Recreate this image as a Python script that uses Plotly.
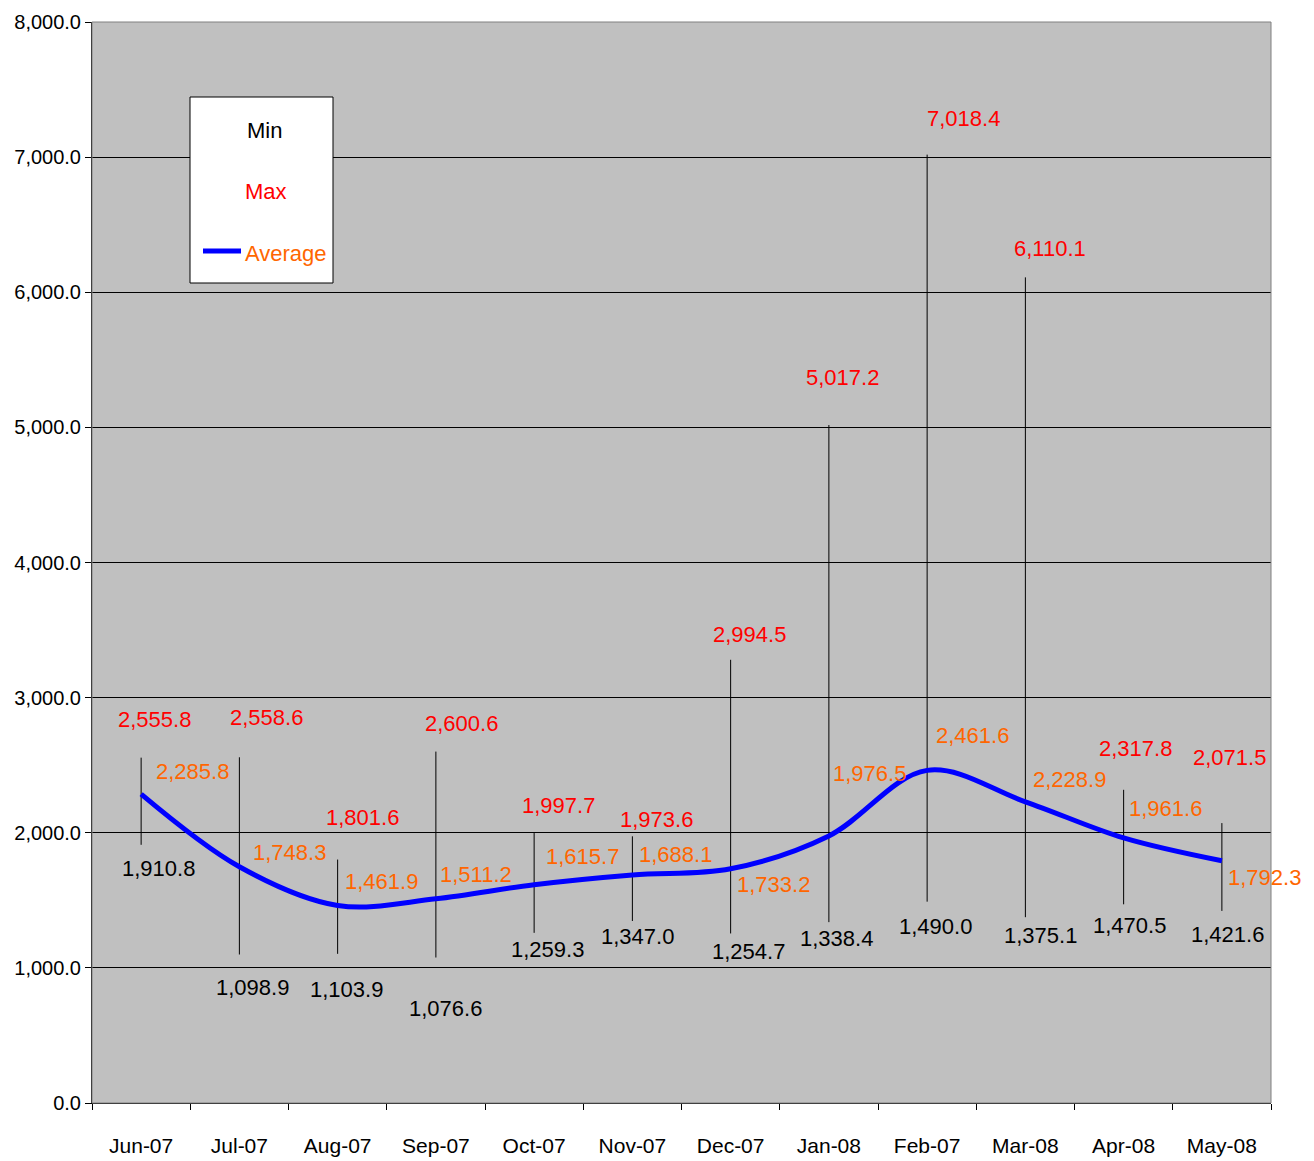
import plotly.graph_objects as go

# ---------------- data ----------------
months = ["Jun-07", "Jul-07", "Aug-07", "Sep-07", "Oct-07", "Nov-07",
          "Dec-07", "Jan-08", "Feb-07", "Mar-08", "Apr-08", "May-08"]
min_value = [1910.8, 1098.9, 1103.9, 1076.6, 1259.3, 1347.0,
             1254.7, 1338.4, 1490.0, 1375.1, 1470.5, 1421.6]
max_value = [2555.8, 2558.6, 1801.6, 2600.6, 1997.7, 1973.6,
             2994.5, 5017.2, 7018.4, 6110.1, 2317.8, 2071.5]
# top of each high-low line as drawn in the picture (Dec line reaches ~3,280)
high_line = [2555.8, 2558.6, 1801.6, 2600.6, 1997.7, 1973.6,
             3280.0, 5017.2, 7018.4, 6110.1, 2317.8, 2071.5]
avg_value = [2285.8, 1748.3, 1461.9, 1511.2, 1615.7, 1688.1,
             1733.2, 1976.5, 2461.6, 2228.9, 1961.6, 1792.3]
y_ticks = [0, 1000, 2000, 3000, 4000, 5000, 6000, 7000, 8000]

# ---------------- label offsets (pixels, dx right, dy down) ----------------
max_off = [(13, -38), (27, -40), (25, -42), (26, -28), (24, -28), (24, -17),
           (19, -64), (14, -48), (36, -36), (25, -29), (12, -41), (8, -66)]
min_off = [(17, 24), (13, 33), (9, 36), (10, 51), (13, 17), (5, 16),
           (18, 18), (8, 16), (8, 25), (15, 18), (6, 21), (6, 24)]
avg_off = [(51, -23), (50, -14), (44, -24), (40, -24), (48, -28), (43, -20),
           (43, 16), (41, -62), (45, -35), (44, -22), (42, -29), (43, 17)]

FONT = "Liberation Sans, Arial, sans-serif"
W, H = 1314, 1161
L, R, T, B = 92, 1271, 22, 1103


def fmt(v):
    return f"{v:,.1f}"


def px(x):
    return (x - L) / (R - L)


def py(y):
    return (B - y) / (B - T)


fig = go.Figure()

# high-low lines
xs, ys = [], []
for m, lo, hi in zip(months, min_value, high_line):
    xs += [m, m, None]
    ys += [lo, hi, None]
fig.add_trace(go.Scatter(x=xs, y=ys, mode="lines",
                         line=dict(color="#000000", width=1),
                         hoverinfo="skip", showlegend=False))

# average smoothed line
fig.add_trace(go.Scatter(x=months, y=avg_value, mode="lines",
                         line=dict(color="#0000FF", width=5, shape="spline",
                                   smoothing=1.0),
                         showlegend=False))

ann = []
for i, m in enumerate(months):
    for vals, offs, col in ((max_value, max_off, "#FF0000"),
                            (min_value, min_off, "#000000"),
                            (avg_value, avg_off, "#FF6600")):
        dx, dy = offs[i]
        ann.append(dict(x=m, y=vals[i], xref="x", yref="y", text=fmt(vals[i]),
                        showarrow=False, xanchor="center", yanchor="middle",
                        xshift=dx, yshift=-dy,
                        font=dict(family=FONT, size=22, color=col)))

# manual legend
ann += [
    dict(x=px(264), y=py(130), xref="paper", yref="paper", text="Min",
         showarrow=False, xanchor="center", yanchor="middle",
         font=dict(family=FONT, size=22, color="#000000")),
    dict(x=px(266), y=py(191), xref="paper", yref="paper", text="Max",
         showarrow=False, xanchor="center", yanchor="middle",
         font=dict(family=FONT, size=22, color="#FF0000")),
    dict(x=px(286), y=py(253), xref="paper", yref="paper", text="Average",
         showarrow=False, xanchor="center", yanchor="middle",
         font=dict(family=FONT, size=22, color="#FF6600")),
]

shapes = [
    # plot border
    dict(type="rect", xref="paper", yref="paper", x0=0, x1=1, y0=0, y1=1,
         line=dict(color="#808080", width=1), layer="above"),
    # legend box
    dict(type="rect", xref="paper", yref="paper",
         x0=px(190), x1=px(333), y0=py(283), y1=py(97),
         fillcolor="#FFFFFF", line=dict(color="#000000", width=1),
         layer="above"),
    dict(type="line", xref="paper", yref="paper",
         x0=px(203), x1=px(241), y0=py(251), y1=py(251),
         line=dict(color="#0000FF", width=5), layer="above"),
]

fig.update_layout(
    width=W, height=H,
    margin=dict(l=L, r=W - R, t=T, b=H - B, pad=0, autoexpand=False),
    paper_bgcolor="#FFFFFF", plot_bgcolor="#C0C0C0",
    font=dict(family=FONT, size=20, color="#000000"),
    annotations=ann, shapes=shapes, showlegend=False,
    xaxis=dict(type="category", categoryorder="array", categoryarray=months,
               range=[-0.5, 11.5], tickson="boundaries", ticks="outside",
               ticklen=6, tickcolor="#000000", showline=True,
               linecolor="#000000", linewidth=1, showgrid=False,
               tickfont=dict(family=FONT, size=21), ticklabelstandoff=24,
               zeroline=False, automargin=False),
    yaxis=dict(range=[0, 8000], tickvals=y_ticks,
               ticktext=[fmt(v) for v in y_ticks], ticks="outside",
               ticklen=6, tickcolor="#000000", showline=True,
               linecolor="#000000", linewidth=1, showgrid=True,
               gridcolor="#000000", gridwidth=1, zeroline=False,
               tickfont=dict(family=FONT, size=20), automargin=False),
)

fig.write_html("out.html", config={"displayModeBar": False})

# remove default page margin so the figure sits at the window's top-left
with open("out.html", "r", encoding="utf-8") as f:
    html = f.read()
html = html.replace("<head>", "<head><style>body{margin:0;padding:0;}</style>", 1)
with open("out.html", "w", encoding="utf-8") as f:
    f.write(html)
